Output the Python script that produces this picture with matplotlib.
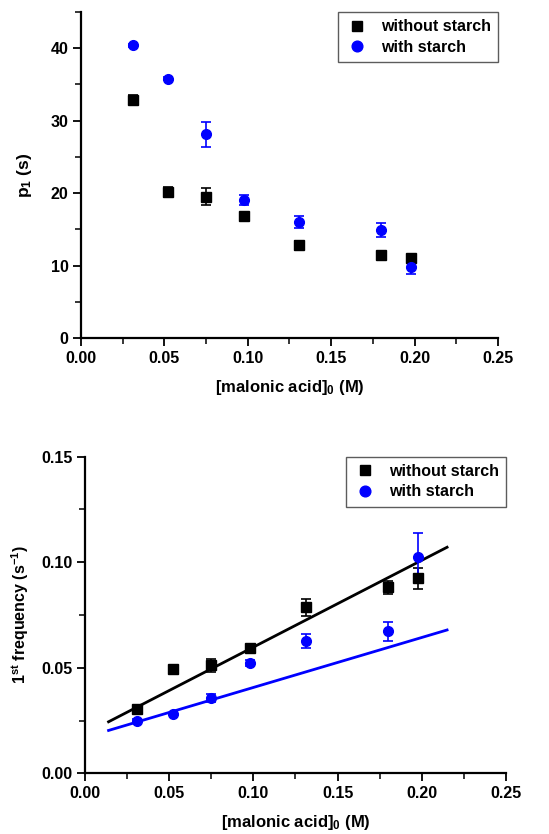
import matplotlib
matplotlib.use("Agg")
import matplotlib.pyplot as plt
from matplotlib.ticker import MultipleLocator

plt.rcParams["font.family"] = ["Liberation Sans", "DejaVu Sans"]
plt.rcParams["font.weight"] = "bold"
plt.rcParams["mathtext.fontset"] = "custom"
plt.rcParams["mathtext.bf"] = "Liberation Sans:bold"
plt.rcParams["mathtext.rm"] = "Liberation Sans:bold"
plt.rcParams["mathtext.default"] = "bf"

# malonic acid concentrations (M)
conc = [0.031, 0.052, 0.075, 0.098, 0.131, 0.180, 0.198]

# top panel: p1 (s)
p1_without = [32.9, 20.1, 19.5, 16.8, 12.8, 11.4, 11.0]
p1_without_err = [0.6, 0.7, 1.2, 0.4, 0.6, 0.4, 0.4]
p1_with = [40.4, 35.8, 28.1, 19.1, 16.0, 14.9, 9.8]
p1_with_err = [0.2, 0.2, 1.7, 0.7, 0.8, 1.0, 1.0]

# bottom panel: 1st frequency (1/s)
freq_without = [0.0305, 0.0495, 0.0511, 0.0595, 0.0786, 0.0881, 0.0924]
freq_without_err = [0.0008, 0.0012, 0.0030, 0.0008, 0.0042, 0.0030, 0.0050]
freq_with = [0.0249, 0.0281, 0.0357, 0.0524, 0.0627, 0.0673, 0.1024]
freq_with_err = [0.0006, 0.0006, 0.0020, 0.0015, 0.0035, 0.0046, 0.0116]

# linear fit lines (endpoints)
fit_x = [0.014, 0.215]
fit_without = [0.0244, 0.1071]
fit_with = [0.0203, 0.0679]

BLUE = "#0000ff"
FS = 11.5


def style_axes(ax):
    for side in ("top", "right"):
        ax.spines[side].set_visible(False)
    for side in ("left", "bottom"):
        ax.spines[side].set_linewidth(1.6)
    ax.tick_params(which="major", direction="out", length=5.5, width=1.3,
                   labelsize=FS)
    ax.tick_params(which="minor", direction="out", length=4, width=1.1)
    ax.set_xlim(0, 0.25)
    ax.xaxis.set_major_locator(MultipleLocator(0.05))
    ax.xaxis.set_minor_locator(MultipleLocator(0.025))
    ax.xaxis.set_major_formatter(plt.FormatStrFormatter("%.2f"))


def draw_points(ax, y1, e1, y2, e2):
    ax.errorbar(conc, y1, yerr=e1, fmt="none", ecolor="black",
                elinewidth=1.2, capsize=3.5, capthick=1.2)
    ax.errorbar(conc, y2, yerr=e2, fmt="none", ecolor=BLUE,
                elinewidth=1.2, capsize=3.5, capthick=1.2)
    ax.plot(conc, y1, "s", color="black", ms=6.5, label="without starch")
    ax.plot(conc, y2, "o", color=BLUE, ms=7, label="with starch")
    leg = ax.legend(loc="upper right", frameon=True, fancybox=False,
                    edgecolor="#333333", fontsize=FS, handletextpad=0.7,
                    borderpad=0.45, labelspacing=0.35, handlelength=1.55,
                    borderaxespad=0.0, markerscale=1.1)
    leg.get_frame().set_linewidth(1.0)
    for t in leg.get_texts():
        t.set_fontweight("bold")


def bold_ticks(ax):
    for lbl in ax.get_xticklabels() + ax.get_yticklabels():
        lbl.set_fontweight("bold")


fig = plt.figure(figsize=(5.49, 8.34), dpi=100)

ax1 = fig.add_axes([0.1475, 0.5947, 0.7595, 0.3909])
style_axes(ax1)
ax1.set_ylim(0, 45)
ax1.yaxis.set_major_locator(MultipleLocator(10))
ax1.yaxis.set_minor_locator(MultipleLocator(5))
draw_points(ax1, p1_without, p1_without_err, p1_with, p1_with_err)
ax1.set_xlabel(r"[malonic acid]$_0$ (M)", fontsize=FS + 0.5,
               fontweight="bold", labelpad=9)
ax1.set_ylabel(r"p$_1$ (s)", fontsize=FS + 1, fontweight="bold", labelpad=12)
bold_ticks(ax1)

ax2 = fig.add_axes([0.1548, 0.0728, 0.7669, 0.3796])
style_axes(ax2)
ax2.set_ylim(0, 0.15)
ax2.yaxis.set_major_locator(MultipleLocator(0.05))
ax2.yaxis.set_minor_locator(MultipleLocator(0.025))
ax2.yaxis.set_major_formatter(plt.FormatStrFormatter("%.2f"))
ax2.plot(fit_x, fit_without, color="black", lw=2)
ax2.plot(fit_x, fit_with, color=BLUE, lw=2)
draw_points(ax2, freq_without, freq_without_err, freq_with, freq_with_err)
ax2.set_xlabel(r"[malonic acid]$_0$ (M)", fontsize=FS + 0.5,
               fontweight="bold", labelpad=9)
ax2.set_ylabel(r"1$^{st}$ frequency (s$^{-1}$)", fontsize=FS,
               fontweight="bold", labelpad=7)
bold_ticks(ax2)

fig.savefig("out.png", dpi=100)
